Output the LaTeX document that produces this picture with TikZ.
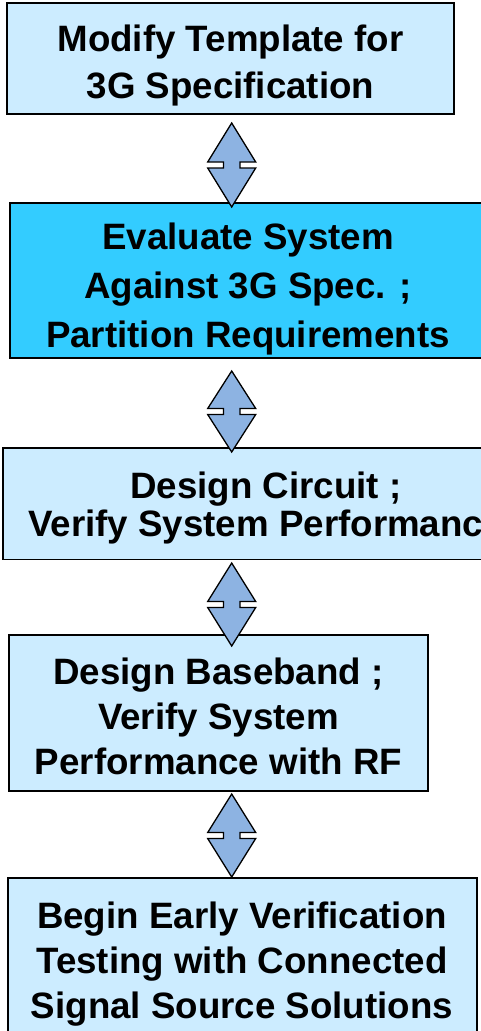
\documentclass[tikz,border=0pt]{standalone}
\usepackage{fontspec}
\setmainfont{Liberation Sans}
\usetikzlibrary{calc}
\definecolor{paleblue}{RGB}{204,236,255}
\definecolor{brightblue}{RGB}{51,204,255}
\definecolor{arrowblue}{RGB}{141,179,226}
% centred lines with a fixed baseline distance; the baseline is that of the first line
\newcommand\stacklines[2]{\vtop{\baselineskip=#1\lineskiplimit=-1000pt\lineskip=0pt\halign{\hfil##\hfil\cr#2\crcr}}}
\begin{document}
\begin{tikzpicture}[x=1pt,y=-1pt,
  box/.style={rectangle, draw=black, line width=1.5pt, inner sep=0pt, fill=paleblue},
  hot/.style={box, fill=brightblue},
  label/.style={anchor=base, inner sep=0pt, font=\fontsize{36.7pt}{44pt}\selectfont\bfseries},
  updown/.style={draw=black, line width=1.3pt, fill=arrowblue, line join=miter,
    to path={let \p1=(\tikztostart), \p2=(\tikztotarget), \n1={(\y1-\y2-6pt)/2} in
      -- (\x1+24pt,\y1-\n1) -- (\x1+8.3pt,\y1-\n1) -- (\x1+8.3pt,\y1-\n1-6pt) -- (\x1+24pt,\y1-\n1-6pt)
      -- (\p2) -- (\x1-24pt,\y1-\n1-6pt) -- (\x1-8.3pt,\y1-\n1-6pt) -- (\x1-8.3pt,\y1-\n1)
      -- (\x1-24pt,\y1-\n1) -- cycle}}]
\useasboundingbox (0,0) rectangle (481,1031);
\clip (0,0) rectangle (481,1031);

% process steps
\node[box, minimum width=447pt, minimum height=111pt] (b1) at (230.5,58.5) {};
\node[hot, minimum width=476pt, minimum height=155pt] (b2) at (248,280.5) {};
\node[box, minimum width=526pt, minimum height=111.5pt] (b3) at (266,503.75) {};
\node[box, minimum width=419pt, minimum height=156pt] (b4) at (218.5,713) {};
\node[box, minimum width=469pt, minimum height=162pt] (b5) at (242.5,959) {};

\node[label] (t1) at (230.5,51.5) {\stacklines{47pt}{Modify Template for\cr 3G Specification}};
\node[label] (t2) at (248,249.5) {\stacklines{49pt}{Evaluate System\cr Against 3G Spec. ;\cr Partition Requirements}};
\node[label] (t3) at (266,498) {\stacklines{38.5pt}{Design Circuit ;\cr Verify System Performance}};
\node[label] (t4) at (218.5,684) {\stacklines{45pt}{Design Baseband ;\cr Verify System\cr Performance with RF}};
\node[label] (t5) at (242,928) {\stacklines{45pt}{Begin Early Verification\cr Testing with Connected\cr Signal Source Solutions}};

% two-way arrows between the steps
\coordinate (a1t) at (231.7,123);  \coordinate (a1b) at (231.7,207);
\coordinate (a2t) at (231.7,371);  \coordinate (a2b) at (231.7,452);
\coordinate (a3t) at (231.7,563);  \coordinate (a3b) at (231.7,646);
\coordinate (a4t) at (231.7,794);  \coordinate (a4b) at (231.7,877);
\draw[updown] (a1t) to (a1b);
\draw[updown] (a2t) to (a2b);
\draw[updown] (a3t) to (a3b);
\draw[updown] (a4t) to (a4b);
\end{tikzpicture}
\end{document}
